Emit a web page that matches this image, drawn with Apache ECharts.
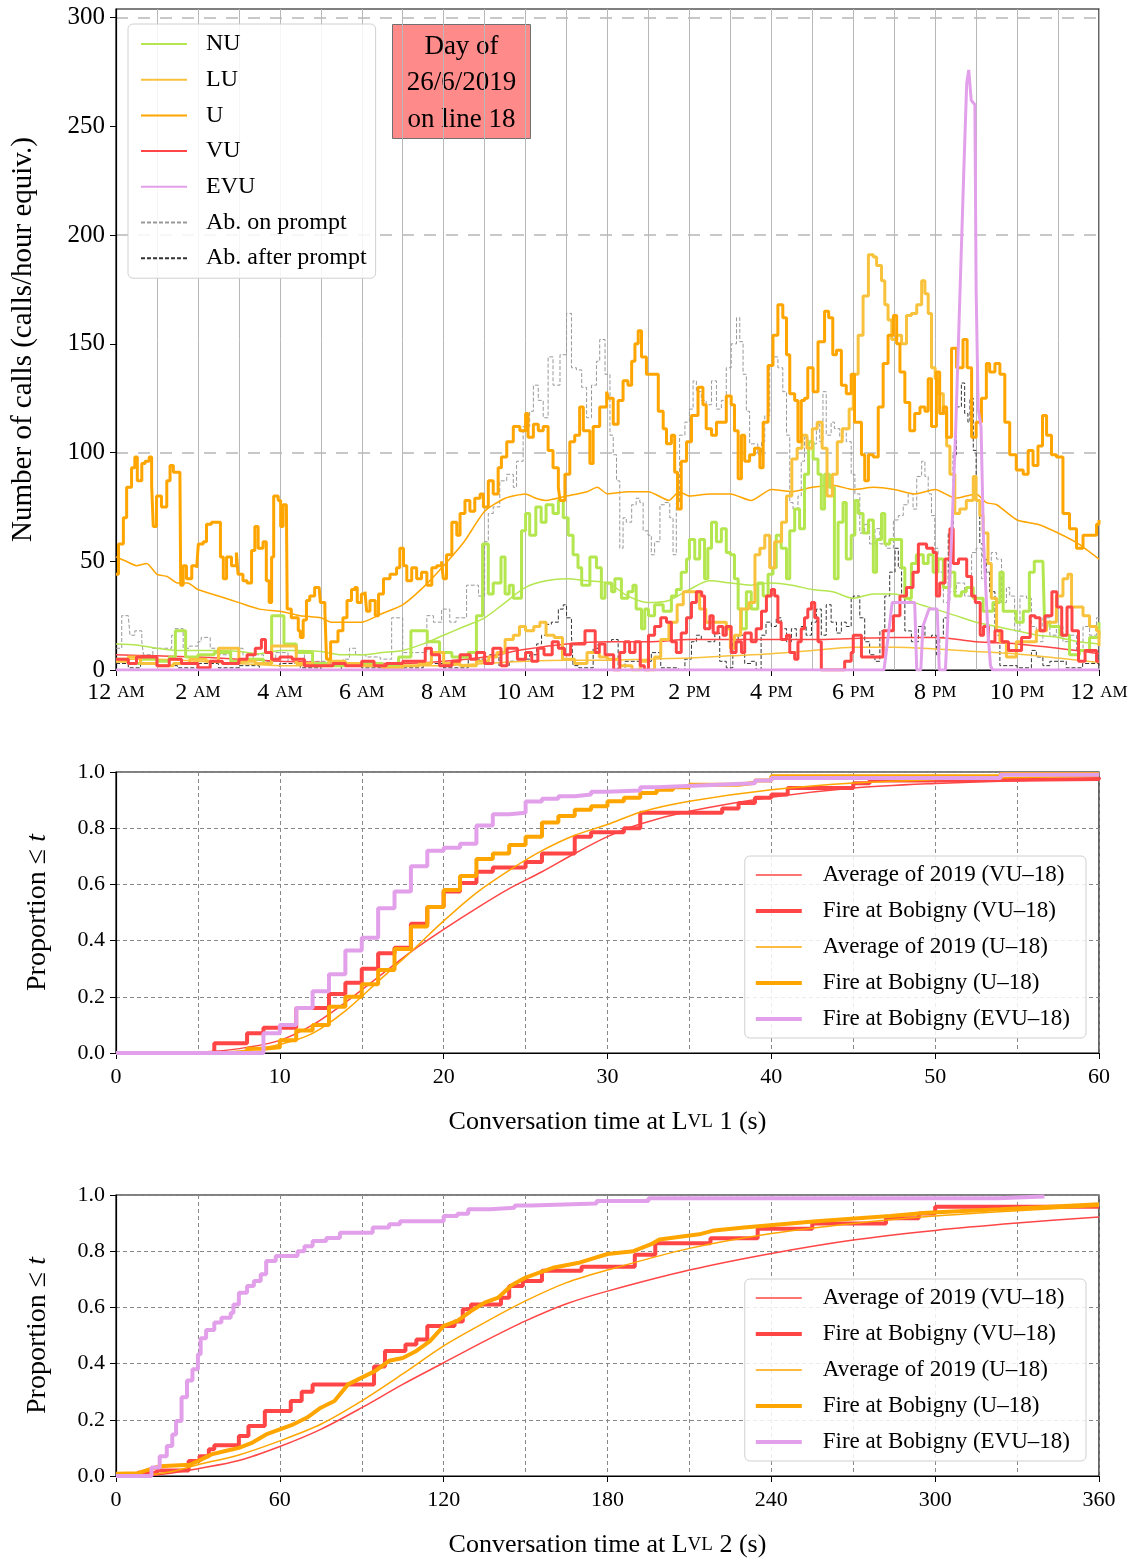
<!DOCTYPE html>
<html>
<head>
<meta charset="utf-8">
<script src="https://cdn.jsdelivr.net/npm/echarts@6/dist/echarts.min.js"></script>
<style>
html, body { margin: 0; padding: 0; background: #fff; }
#chart { width: 1137px; height: 1563px; }
</style>
</head>
<body>
<div id="chart"></div>
<script>
// ---- top panel: calls per hour, [hour, value]
var xTicksTop = ['12 AM', '2 AM', '4 AM', '6 AM', '8 AM', '10 AM', '12 PM', '2 PM', '4 PM', '6 PM', '8 PM', '10 PM', '12 AM'];
var yTicksTop = [0, 50, 100, 150, 200, 250, 300];
var yDashTop = [100, 200, 300];

var uDay = [[0,44],[0.06,58],[0.18,70],[0.26,84],[0.38,93],[0.46,98],[0.52,87],[0.63,95],[0.71,96],[0.81,98],[0.87,85],[0.91,66],[0.99,80],[1.11,75],[1.24,87],[1.32,94],[1.4,91],[1.56,91],[1.58,39],[1.64,48],[1.72,42],[1.85,48],[1.97,47],[2.01,58],[2.13,59],[2.21,67],[2.33,68],[2.5,68],[2.55,52],[2.62,42],[2.7,52],[2.82,48],[2.94,54],[2.98,44],[3.1,41],[3.2,40],[3.31,55],[3.39,66],[3.47,56],[3.59,59],[3.67,41],[3.74,31],[3.8,52],[3.85,80],[3.96,78],[4.02,66],[4.08,76],[4.16,76],[4.18,28],[4.28,24],[4.37,24],[4.45,18],[4.5,15],[4.57,23],[4.65,32],[4.73,34],[4.85,38],[4.96,38],[4.99,31],[5.1,27],[5.14,5],[5.24,13],[5.42,18],[5.54,24],[5.64,32],[5.75,37],[5.83,38],[5.89,31],[5.99,35],[6.08,36],[6.12,27],[6.2,32],[6.33,25],[6.41,35],[6.53,42],[6.69,44],[6.85,47],[6.93,56],[7.02,48],[7.1,41],[7.22,47],[7.34,42],[7.46,45],[7.59,39],[7.71,47],[7.83,48],[7.95,50],[7.99,42],[8.07,53],[8.2,68],[8.32,62],[8.4,72],[8.52,78],[8.64,73],[8.76,79],[8.89,81],[8.97,75],[9.09,87],[9.21,81],[9.33,93],[9.41,98],[9.54,105],[9.7,112],[9.86,110],[10,118],[10.06,107],[10.19,113],[10.31,110],[10.43,112],[10.55,101],[10.67,93],[10.8,84],[10.84,78],[10.96,90],[11.08,105],[11.2,108],[11.32,121],[11.41,110],[11.57,95],[11.65,112],[11.81,121],[11.98,128],[12.02,125],[12.14,113],[12.26,124],[12.38,133],[12.5,131],[12.59,142],[12.67,150],[12.75,156],[12.83,144],[12.95,136],[13.15,136],[13.24,119],[13.36,111],[13.44,104],[13.56,108],[13.64,91],[13.71,74],[13.8,96],[13.93,105],[14.05,117],[14.21,130],[14.33,122],[14.41,111],[14.54,108],[14.66,114],[14.78,114],[14.9,126],[15.02,122],[15.1,110],[15.19,88],[15.27,108],[15.35,96],[15.47,99],[15.59,102],[15.72,93],[15.8,114],[15.92,140],[16.04,154],[16.16,168],[16.28,162],[16.37,145],[16.45,127],[16.57,124],[16.65,105],[16.73,124],[16.81,125],[16.89,139],[17.02,128],[17.14,151],[17.3,165],[17.4,162],[17.5,145],[17.59,147],[17.71,131],[17.83,127],[17.95,136],[18.03,114],[18.08,114],[18.2,99],[18.28,87],[18.37,99],[18.49,98],[18.61,121],[18.73,141],[18.85,154],[18.98,163],[19.06,150],[19.14,137],[19.26,123],[19.38,110],[19.5,118],[19.63,121],[19.75,119],[19.83,134],[19.91,112],[20.03,137],[20.11,118],[20.2,121],[20.28,107],[20.4,148],[20.52,139],[20.68,152],[20.78,139],[20.89,107],[21,114],[21.13,125],[21.25,141],[21.33,137],[21.46,141],[21.58,136],[21.7,114],[21.82,99],[21.98,92],[22.15,90],[22.27,101],[22.39,94],[22.51,103],[22.62,117],[22.72,108],[22.84,99],[22.96,98],[23.12,72],[23.28,65],[23.45,56],[23.61,62],[23.77,62],[23.94,67],[24,69]];
var uAvg = [[0,52],[0.25,50],[0.5,48],[0.75,49],[1,44],[1.25,43],[1.5,40],[1.75,40],[2,37],[2.5,34],[3,31],[3.5,28],[4,27],[4.5,25],[5,24],[5.25,22],[5.5,22],[6,22],[6.5,26],[7,30],[7.5,38],[8,48],[8.5,59],[9,73],[9.5,79],[10,81],[10.25,79],[10.5,78],[11,80],[11.5,82],[11.75,84],[12,81],[12.5,82],[13,82],[13.5,78],[13.75,82],[14,80],[14.5,81],[15,81],[15.5,78],[16,83],[16.5,82],[17,84],[17.5,85],[18,83],[18.5,84],[19,83],[19.5,81],[20,83],[20.5,79],[21,81],[21.25,77],[21.5,76],[22,69],[22.5,67],[23,63],[23.5,58],[24,51]];
var nuDay = [[0,5],[0.3,3],[0.6,5],[1,4],[1.3,6],[1.45,18],[1.7,6],[2,7],[2.4,8],[2.8,4],[3.2,5],[3.6,3],[3.8,25],[4.1,12],[4.4,8],[4.8,3],[5.2,2],[5.6,3],[6,3],[6.5,2],[6.9,6],[7.2,18],[7.6,13],[7.9,8],[8.2,6],[8.6,8],[8.8,25],[8.95,58],[9.09,35],[9.21,40],[9.4,52],[9.5,35],[9.6,39],[9.7,33],[9.9,64],[10,72],[10.1,62],[10.25,75],[10.38,68],[10.5,76],[10.67,72],[10.8,78],[10.92,70],[11.04,62],[11.16,53],[11.28,47],[11.37,39],[11.57,52],[11.73,47],[11.85,33],[11.94,40],[12.1,36],[12.18,42],[12.34,33],[12.5,36],[12.62,39],[12.7,28],[12.83,19],[12.91,28],[13,25],[13.15,30],[13.36,27],[13.56,34],[13.68,37],[13.8,45],[13.93,51],[14,60],[14.13,51],[14.25,60],[14.37,42],[14.45,56],[14.54,68],[14.66,59],[14.78,65],[14.9,54],[15,53],[15.1,42],[15.19,28],[15.27,19],[15.39,36],[15.51,28],[15.67,40],[15.8,34],[15.92,44],[16.04,47],[16.12,62],[16.24,56],[16.37,42],[16.45,64],[16.57,74],[16.69,65],[16.81,90],[16.91,105],[17.02,97],[17.14,90],[17.22,74],[17.3,90],[17.42,84],[17.54,42],[17.63,68],[17.75,77],[17.83,51],[17.95,62],[18.04,78],[18.12,72],[18.24,63],[18.37,69],[18.49,45],[18.57,60],[18.69,72],[18.77,58],[18.89,60],[19.1,60],[19.18,47],[19.26,33],[19.42,49],[19.54,53],[19.71,49],[19.83,53],[19.95,45],[20.07,51],[20.2,38],[20.36,45],[20.48,34],[20.64,36],[20.76,38],[20.93,33],[21.17,27],[21.41,31],[21.58,45],[21.66,27],[21.82,27],[21.98,22],[22.15,27],[22.3,45],[22.42,50],[22.63,50],[22.67,22],[22.8,20],[23.04,16],[23.28,7],[23.52,9],[23.77,15],[24,22]];
var nuAvg = [[0,12],[0.5,11.5],[1,10],[1.5,9],[2,9],[2.5,9],[3,8.5],[3.5,7.5],[4,9],[4.5,9],[5,8.5],[5.5,7],[6,7],[6.5,8],[7,9],[7.5,12],[8,16],[8.5,20],[9,24],[9.5,31],[10,38],[10.5,41],[11,42],[11.5,41],[12,40],[12.5,34],[13,31],[13.5,32],[14,37],[14.5,41],[15,40],[15.5,39],[16,40],[16.5,39],[17,37],[17.5,36],[18,33],[18.5,35],[19,35],[19.5,31],[20,28],[20.5,25],[21,22],[21.5,20],[22,18],[22.5,16],[23,15],[23.5,13],[24,12]];
var luDay = [[0,4],[0.3,6],[0.6,3],[1,2],[1.4,3],[1.8,5],[2.2,4],[2.5,10],[2.8,10],[3,4],[3.4,3],[3.8,11],[4.2,11],[4.4,3],[4.8,2],[5.2,4],[5.6,3],[6,2],[6.5,1],[7,2],[7.4,3],[7.7,8],[8,3],[8.4,2],[8.8,4],[9.1,6],[9.3,8],[9.5,14],[9.7,16],[9.85,20],[10,18],[10.2,20],[10.35,22],[10.5,16],[10.7,15],[10.9,5],[11.2,3],[11.5,8],[11.8,6],[12,5],[12.3,2],[12.6,0],[12.8,4],[13,0],[13.15,6],[13.3,14],[13.5,22],[13.7,30],[13.85,36],[14.1,36],[14.25,28],[14.4,22],[14.7,22],[14.9,19],[15,10],[15.1,16],[15.25,28],[15.45,31],[15.6,53],[15.72,56],[15.84,62],[15.96,47],[16.08,59],[16.25,68],[16.37,80],[16.5,97],[16.63,102],[16.75,108],[16.87,102],[17,111],[17.12,114],[17.24,102],[17.36,80],[17.49,90],[17.61,105],[17.73,111],[17.9,120],[18,136],[18.12,154],[18.24,172],[18.37,191],[18.49,190],[18.57,186],[18.69,179],[18.77,168],[18.85,161],[18.94,152],[19.06,154],[19.18,150],[19.3,163],[19.42,164],[19.55,168],[19.67,179],[19.75,173],[19.83,164],[19.91,139],[20,134],[20.07,127],[20.2,118],[20.28,103],[20.36,90],[20.48,72],[20.6,74],[20.76,78],[20.93,89],[21,78],[21.09,71],[21.17,63],[21.29,49],[21.37,33],[21.5,18],[21.58,13],[21.74,6],[21.98,13],[22.23,13],[22.47,18],[22.72,22],[22.96,34],[23.12,42],[23.24,44],[23.33,29],[23.45,29],[23.61,25],[23.77,20],[23.94,18],[24,11]];
var luAvg = [[0,5],[1,5],[2,4],[3,3],[4,2],[5,2],[6,2],[7,2],[8,2],[9,3],[10,4],[11,4.5],[12,4.5],[13,5],[14,5.5],[15,6.5],[16,7.5],[17,9],[18,10.5],[19,10.5],[20,9.7],[21,8.5],[22,7.4],[23,5.5],[24,3.5]];
var vuDay = [[0,5],[0.3,3],[0.5,6],[1,2],[1.3,5],[1.6,3],[2,1],[2.3,4],[2.6,3],[3,5],[3.2,7],[3.4,10],[3.55,14],[3.65,8],[3.8,5],[4,6],[4.3,5],[4.6,2],[5,2],[5.3,3],[5.6,2],[6,4],[6.3,2],[6.6,3],[7,4],[7.3,4],[7.55,10],[7.7,7],[7.9,2],[8.2,4],[8.4,7],[8.65,5],[8.8,8],[9,3],[9.2,10],[9.4,2],[9.55,10],[9.8,5],[10,8],[10.15,4],[10.3,10],[10.45,7],[10.65,13],[10.8,10],[10.95,7],[11.1,12],[11.3,12],[11.45,18],[11.6,18],[11.7,8],[11.8,12],[11.94,7],[12.15,0],[12.3,8],[12.42,13],[12.54,8],[12.67,13],[12.8,2],[12.9,0],[13,16],[13.15,20],[13.3,24],[13.44,22],[13.56,13],[13.68,8],[13.8,17],[13.93,24],[14.05,31],[14.17,36],[14.3,34],[14.37,19],[14.5,25],[14.58,17],[14.7,20],[14.82,16],[14.9,20],[15.02,8],[15.14,13],[15.27,8],[15.35,17],[15.51,13],[15.63,19],[15.76,27],[15.88,34],[16,37],[16.08,34],[16.16,22],[16.24,14],[16.37,16],[16.45,8],[16.57,5],[16.65,13],[16.73,19],[16.81,24],[16.89,28],[16.98,31],[17.06,24],[17.14,13],[17.22,0],[17.63,0],[17.79,4],[17.95,8],[18,16],[18.2,6],[18.6,6],[18.73,18],[18.98,25],[19.14,34],[19.3,38],[19.46,45],[19.59,58],[19.79,56],[19.95,54],[20.03,34],[20.11,40],[20.24,51],[20.36,65],[20.44,49],[20.57,51],[20.69,51],[20.77,43],[20.89,34],[20.98,31],[21.1,16],[21.18,20],[21.3,13],[21.46,18],[21.63,13],[21.79,9],[21.95,9],[22.11,15],[22.32,25],[22.44,24],[22.56,18],[22.68,25],[22.85,36],[22.97,29],[23.09,16],[23.22,29],[23.34,18],[23.5,4],[23.66,9],[23.82,9],[23.94,4],[24,4]];
var vuAvg = [[0,7],[1,6.5],[2,6],[3,5],[4,4],[5,3.5],[6,3],[7,3],[8,4],[9,6],[10,9.5],[11,12],[12,13],[13,13],[14,14],[15,14],[16,14],[17,14],[18,14.5],[19,15],[20,15],[21,13],[22,12],[23,10],[24,7.5]];
var evuDay = [[0,0],[18.75,0],[18.85,15],[18.95,31],[19.5,31],[19.55,0],[19.65,0],[19.7,20],[19.85,28],[20.05,28],[20.1,0],[20.25,0],[20.3,20],[20.4,60],[20.5,110],[20.6,170],[20.7,230],[20.77,270],[20.82,276],[20.88,262],[20.97,260],[21,175],[21.05,120],[21.12,112],[21.18,60],[21.28,20],[21.35,2],[21.4,0],[24,0]];
var abOnPrompt = [[0,10],[0.14,25],[0.3,25],[0.34,16],[0.46,18],[0.63,13],[0.67,7],[0.9,10],[1.24,10],[1.36,16],[1.44,19],[1.56,19],[1.64,10],[1.8,11],[2,13],[2.08,15],[2.3,10],[2.54,7],[2.8,10],[2.94,10],[3.1,5],[3.35,7],[3.6,4],[3.9,8],[4.2,4],[4.4,8],[4.6,4],[5,4],[5.3,3],[5.55,5],[5.7,10],[5.85,7],[6.1,6],[6.45,5],[6.73,24],[6.93,24],[7,8],[7.3,8],[7.59,25],[7.75,22],[7.95,28],[8.15,22],[8.3,24],[8.56,39],[8.76,39],[8.85,34],[9,59],[9.09,72],[9.21,75],[9.37,87],[9.54,90],[9.7,84],[9.78,96],[9.94,112],[10.1,119],[10.19,131],[10.31,124],[10.43,116],[10.55,144],[10.67,131],[10.84,145],[11,164],[11.12,139],[11.24,138],[11.37,130],[11.49,116],[11.61,131],[11.73,142],[11.81,152],[11.94,136],[12.06,108],[12.14,99],[12.22,87],[12.3,56],[12.38,70],[12.46,68],[12.59,76],[12.7,79],[12.79,77],[12.87,64],[12.99,62],[13.07,53],[13.15,59],[13.28,76],[13.4,77],[13.52,70],[13.6,53],[13.68,77],[13.76,108],[13.89,114],[14,120],[14.09,133],[14.17,128],[14.29,124],[14.41,122],[14.54,133],[14.66,120],[14.78,124],[14.9,139],[15.02,150],[15.15,162],[15.23,151],[15.31,136],[15.39,119],[15.47,104],[15.55,104],[15.67,99],[15.76,105],[15.84,117],[15.96,140],[16.04,144],[16.16,139],[16.28,128],[16.37,108],[16.45,77],[16.53,74],[16.65,80],[16.73,96],[16.81,107],[16.89,105],[17.02,104],[17.1,113],[17.18,105],[17.26,128],[17.34,108],[17.46,114],[17.54,111],[17.67,107],[17.75,111],[17.83,105],[17.95,90],[18.04,81],[18.16,63],[18.28,67],[18.4,58],[18.53,65],[18.65,58],[18.8,56],[18.98,69],[19.1,71],[19.22,76],[19.34,81],[19.46,74],[19.55,89],[19.67,96],[19.75,89],[19.83,81],[19.91,71],[19.99,56],[20.07,45],[20.2,31],[20.36,36],[20.52,40],[20.72,34],[20.89,54],[21,56],[21.13,42],[21.25,45],[21.37,54],[21.5,51],[21.62,31],[21.74,38],[21.82,34],[21.94,18],[22.07,34],[22.23,33],[22.35,20],[22.47,13],[22.63,24],[22.8,16],[22.96,20],[23.12,13],[23.28,16],[23.45,9],[23.61,20],[23.77,16],[23.94,24],[24,24]];
var abAfterPrompt = [[0,3],[0.3,1],[0.6,5],[1,2],[1.5,1],[2,3],[2.5,1],[3,2],[3.5,0],[4,3],[4.5,1],[5,0],[5.5,2],[6,1],[6.5,2],[7,1],[7.5,3],[8,1],[8.4,1],[8.6,5],[8.9,5],[9.1,7],[9.35,2],[9.6,4],[9.86,5],[10.1,7],[10.27,12],[10.39,16],[10.51,21],[10.63,22],[10.8,28],[10.92,30],[11,24],[11.12,16],[11.16,2],[11.3,1],[11.57,1],[11.65,10],[11.77,12],[11.96,13],[12.1,14],[12.26,0],[12.43,4],[12.9,4],[13.07,8],[13.3,1],[13.73,0],[13.89,5],[14.05,13],[14.17,16],[14.29,14],[14.45,13],[14.62,17],[14.74,4],[14.9,1],[15.06,13],[15.19,16],[15.35,3],[15.51,4],[15.63,0],[15.75,16],[15.87,22],[16,20],[16.12,24],[16.24,19],[16.37,13],[16.49,19],[16.61,14],[16.73,20],[16.85,16],[16.98,22],[17.1,28],[17.22,16],[17.34,30],[17.46,22],[17.59,17],[17.71,22],[17.83,20],[17.95,33],[18,34],[18.16,24],[18.28,13],[18.4,7],[18.53,4],[18.65,18],[18.77,34],[18.89,45],[19.02,56],[19.1,47],[19.18,34],[19.26,18],[19.42,13],[19.59,20],[19.75,15],[19.91,16],[20.03,7],[20.11,15],[20.2,24],[20.32,63],[20.44,99],[20.52,121],[20.64,132],[20.72,118],[20.8,114],[20.85,125],[20.93,101],[21,78],[21.09,58],[21.17,51],[21.25,45],[21.33,36],[21.46,16],[21.58,2],[22,1],[22.35,9],[22.47,6],[22.63,2],[22.8,4],[23.2,1],[23.6,3],[24,1]];

// ---- middle panel: conversation time at level 1, [seconds, proportion]
var lvl1VuAvg = [[0,0],[4,0.001],[6,0.006],[8,0.02],[10,0.045],[12,0.1],[14,0.18],[16,0.27],[18,0.36],[20,0.44],[22,0.515],[24,0.585],[26,0.645],[28,0.71],[30,0.77],[32,0.815],[35,0.86],[40,0.91],[45,0.943],[50,0.959],[55,0.969],[60,0.976]];
var lvl1VuDay = [[0,0],[6,0.035],[8,0.07],[9,0.09],[11,0.16],[13,0.21],[14,0.25],[15,0.3],[16,0.355],[17,0.375],[18,0.46],[19,0.52],[20,0.575],[21,0.605],[22,0.645],[23,0.66],[25,0.68],[26,0.71],[28,0.77],[29,0.786],[31,0.8],[32,0.855],[37,0.87],[38,0.89],[39,0.908],[40,0.92],[41,0.943],[45,0.96],[46,0.97],[50,0.975],[60,0.98]];
var lvl1UAvg = [[0,0],[6,0.003],[8,0.01],[10,0.03],[12,0.07],[14,0.15],[16,0.255],[18,0.36],[20,0.47],[22,0.57],[24,0.65],[26,0.72],[28,0.775],[30,0.813],[32,0.857],[35,0.896],[40,0.937],[45,0.961],[50,0.973],[55,0.98],[60,0.985]];
var lvl1UDay = [[0,0],[8,0.015],[9,0.02],[10,0.045],[11,0.08],[12,0.1],[13,0.165],[14,0.2],[15,0.245],[16,0.295],[17,0.37],[18,0.45],[19,0.52],[20,0.58],[21,0.63],[22,0.69],[23,0.71],[24,0.74],[25,0.77],[26,0.82],[27,0.843],[28,0.866],[29,0.878],[30,0.896],[31,0.908],[32,0.925],[33,0.937],[34,0.946],[35,0.955],[38,0.962],[39,0.97],[40,0.985],[54,0.993],[60,0.993]];
var lvl1EvuDay = [[0,0],[9,0.07],[10,0.1],[11,0.16],[12,0.22],[13,0.28],[14,0.365],[15,0.41],[16,0.515],[17,0.575],[18,0.665],[19,0.72],[20,0.73],[21,0.745],[22,0.81],[23,0.85],[24,0.855],[25,0.895],[26,0.905],[27,0.914],[28,0.92],[29,0.93],[30,0.934],[32,0.946],[33,0.953],[36,0.96],[39,0.97],[40,0.979],[54,0.99],[60,0.99]];

// ---- bottom panel: conversation time at level 2
var lvl2VuAvg = [[0,0],[12,0.002],[20,0.01],[30,0.026],[45,0.055],[60,0.105],[75,0.166],[90,0.243],[105,0.326],[120,0.403],[135,0.48],[150,0.552],[165,0.613],[180,0.658],[210,0.733],[240,0.792],[270,0.84],[300,0.874],[330,0.9],[360,0.922]];
var lvl2VuDay = [[0,0],[8,0.012],[15,0.02],[26.6,0.053],[30.6,0.07],[34,0.095],[36,0.109],[45,0.142],[48.5,0.178],[54.5,0.231],[64,0.267],[68,0.3],[72,0.326],[94.5,0.39],[98.5,0.445],[106,0.468],[110,0.486],[114,0.534],[124,0.55],[127,0.593],[130,0.61],[141,0.634],[144,0.676],[149,0.694],[156,0.73],[170.5,0.745],[190,0.787],[197.5,0.828],[217.7,0.846],[235,0.88],[255,0.899],[282,0.917],[294,0.934],[300,0.958],[360,0.958]];
var lvl2UAvg = [[0,0],[10,0.003],[20,0.015],[30,0.04],[45,0.075],[60,0.125],[75,0.184],[90,0.267],[105,0.363],[120,0.463],[135,0.546],[150,0.623],[165,0.688],[180,0.733],[210,0.81],[240,0.863],[270,0.899],[300,0.925],[330,0.944],[360,0.96]];
var lvl2UDay = [[0,0.008],[8,0.01],[16,0.035],[27,0.04],[30,0.053],[35,0.077],[40,0.089],[45,0.1],[50,0.119],[55,0.148],[60,0.166],[65,0.184],[70,0.208],[75,0.243],[80,0.267],[85,0.326],[90,0.35],[95,0.374],[100,0.41],[105,0.42],[110,0.445],[115,0.48],[120,0.534],[125,0.552],[130,0.587],[135,0.617],[140,0.635],[145,0.68],[150,0.706],[155,0.724],[160,0.741],[170,0.76],[180,0.79],[189.5,0.8],[196,0.825],[199,0.842],[213.6,0.86],[219,0.874],[230,0.884],[256.5,0.907],[283.5,0.925],[297,0.937],[324,0.949],[360,0.967]];
var lvl2EvuDay = [[0,0],[10,0],[13,0.03],[16,0.07],[18.6,0.107],[20.6,0.148],[22,0.196],[24,0.28],[26,0.34],[28,0.38],[30,0.433],[31,0.49],[33,0.52],[36,0.546],[38.6,0.563],[42,0.58],[43,0.61],[45,0.652],[48,0.676],[50.5,0.694],[53,0.718],[55,0.765],[58.5,0.783],[64,0.783],[66.5,0.8],[69,0.818],[72,0.836],[77,0.847],[82,0.866],[94,0.884],[100,0.896],[104,0.907],[120,0.925],[125,0.933],[129,0.949],[137,0.955],[146,0.963],[152,0.97],[176,0.979],[195,0.988],[323,0.995],[340,0.995]];

var cdfNames = ['Average of 2019 (VU–18)', 'Fire at Bobigny (VU–18)', 'Average of 2019 (U–18)', 'Fire at Bobigny (U–18)', 'Fire at Bobigny (EVU–18)'];
var cdfWidths = [1.5, 4, 1.5, 4, 4];

var FONT = '"Liberation Serif", "DejaVu Serif", serif';
var C = { nu: '#b4e64f', lu: '#f8c23c', u: '#ffa500', vu: '#ff4545', evu: '#e2a0ea', on: '#999999', after: '#333333' };
var cdfColors = [C.vu, C.vu, C.u, C.u, C.evu];

var chart = echarts.init(document.getElementById('chart'));

function line(name, data, color, width, gi, extra) {
    var s = {
        type: 'line', name: name, data: data,
        xAxisIndex: gi, yAxisIndex: gi === 0 ? 0 : gi + 1,
        symbol: 'none', showSymbol: false,
        lineStyle: { color: color, width: width },
        itemStyle: { color: color },
        emphasis: { disabled: true }
    };
    for (var k in extra) s[k] = extra[k];
    return s;
}

function cdfXAxis(gi, max, interval, labelName) {
    return {
        type: 'value', gridIndex: gi, min: 0, max: max, interval: interval,
        name: labelName, nameLocation: 'middle', nameGap: 56,
        nameTextStyle: { fontFamily: FONT, fontSize: 26, color: '#000', rich: { s: { fontFamily: FONT, fontSize: 19, color: '#000' } } },
        axisLine: { lineStyle: { color: '#000', width: 1.2 } },
        axisTick: { length: 6, lineStyle: { color: '#000' } },
        axisLabel: { fontFamily: FONT, fontSize: 22, color: '#000', margin: 13 },
        splitLine: { show: true, lineStyle: { color: '#888', type: [4, 3], width: 1 } },
        minorTick: { show: false, splitNumber: 2 },
        minorSplitLine: { show: true, lineStyle: { color: '#888', type: [4, 3], width: 1 } }
    };
}

function cdfYAxis(gi) {
    return {
        type: 'value', gridIndex: gi, min: 0, max: 1, interval: 0.2,
        name: 'Proportion ≤ {i|t}', nameLocation: 'middle', nameGap: 64,
        nameTextStyle: { fontFamily: FONT, fontSize: 28, color: '#000', rich: { i: { fontFamily: FONT, fontSize: 28, fontStyle: 'italic', color: '#000' } } },
        axisLine: { lineStyle: { color: '#000', width: 1.2 } },
        axisTick: { show: true, length: 6, lineStyle: { color: '#000' } },
        axisLabel: { fontFamily: FONT, fontSize: 22, color: '#000', margin: 11, formatter: function (v) { return v.toFixed(1); } },
        splitLine: { show: true, lineStyle: { color: '#888', type: [4, 3], width: 1 } }
    };
}

function cdfLegend(top) {
    return {
        orient: 'vertical', right: 51, top: top,
        data: cdfNames.map(function (n, i) {
            return { name: n, lineStyle: { width: cdfWidths[i], color: cdfColors[i] } };
        }),
        itemWidth: 46, itemHeight: 14, itemGap: 12,
        itemStyle: { opacity: 0 },
        backgroundColor: 'rgba(255,255,255,0.85)', borderColor: '#d0d0d0', borderWidth: 1, borderRadius: 5,
        padding: [7, 16, 7, 9],
        textStyle: { fontFamily: FONT, fontSize: 23, color: '#000', lineHeight: 24, padding: [0, 0, 0, 16] }
    };
}

var option = {
    animation: false,
    backgroundColor: '#fff',
    grid: [
        { left: 116, right: 38, top: 9, height: 661, show: true, borderColor: '#000', borderWidth: 1.2, backgroundColor: 'transparent' },
        { left: 116, right: 38, top: 772, height: 281, show: true, borderColor: '#000', borderWidth: 1.2, backgroundColor: 'transparent' },
        { left: 116, right: 38, top: 1195, height: 281, show: true, borderColor: '#000', borderWidth: 1.2, backgroundColor: 'transparent' }
    ],
    xAxis: [
        {
            type: 'value', gridIndex: 0, min: 0, max: 24, interval: 2,
            axisLine: { lineStyle: { color: '#000', width: 1.2 } },
            axisTick: { length: 6, lineStyle: { color: '#000' } },
            axisLabel: {
                fontFamily: FONT, fontSize: 24, color: '#000', margin: 11,
                formatter: function (v) {
                    var p = xTicksTop[Math.round(v / 2)].split(' ');
                    return p[0] + ' {s|' + p[1] + '}';
                },
                rich: { s: { fontFamily: FONT, fontSize: 17, color: '#000' } }
            },
            splitLine: { show: true, lineStyle: { color: '#b8b8b8', width: 1 } },
            minorTick: { show: false, splitNumber: 2 },
            minorSplitLine: { show: true, lineStyle: { color: '#b8b8b8', width: 1 } }
        },
        cdfXAxis(1, 60, 10, 'Conversation time at L{s|VL} 1 (s)'),
        cdfXAxis(2, 360, 60, 'Conversation time at L{s|VL} 2 (s)')
    ],
    yAxis: [
        {
            type: 'value', gridIndex: 0, min: 0, max: 304,
            name: 'Number of calls (calls/hour equiv.)', nameLocation: 'middle', nameGap: 78,
            nameTextStyle: { fontFamily: FONT, fontSize: 29, color: '#000' },
            axisLine: { lineStyle: { color: '#000', width: 1.2 } },
            axisTick: { show: true, length: 6, lineStyle: { color: '#000' }, customValues: yTicksTop },
            axisLabel: { fontFamily: FONT, fontSize: 25, color: '#000', margin: 11, customValues: yTicksTop },
            splitLine: { show: false }
        },
        {
            type: 'value', gridIndex: 0, min: 0, max: 304,
            axisLine: { show: false },
            axisTick: { show: false, customValues: yDashTop },
            axisLabel: { show: false, customValues: yDashTop },
            splitLine: { show: true, lineStyle: { color: '#c8c8c8', type: [12, 10], width: 2 } }
        },
        cdfYAxis(1),
        cdfYAxis(2)
    ],
    legend: [
        {
            orient: 'vertical', left: 128, top: 24,
            data: ['NU', 'LU', 'U', 'VU', 'EVU', 'Ab. on prompt', 'Ab. after prompt'],
            itemWidth: 46, itemHeight: 14, itemGap: 11.7,
            itemStyle: { opacity: 0 },
            backgroundColor: 'rgba(255,255,255,0.85)', borderColor: '#d0d0d0', borderWidth: 1, borderRadius: 5,
            padding: [8, 9, 8, 12],
            textStyle: { fontFamily: FONT, fontSize: 24, color: '#000', lineHeight: 24, padding: [0, 0, 0, 14] }
        },
        cdfLegend(856),
        cdfLegend(1279)
    ],
    graphic: [{
        type: 'group', left: 392, top: 24,
        children: [
            { type: 'rect', shape: { x: 0, y: 0, width: 138, height: 114 }, style: { fill: '#ff8a8a', stroke: '#707070', lineWidth: 1 } },
            { type: 'text', x: 69, y: 4, style: { text: 'Day of\n26/6/2019\non line 18', font: '27px ' + FONT, fill: '#000', align: 'center', verticalAlign: 'top', lineHeight: 36.5 } }
        ]
    }],
    series: [
        line('Ab. on prompt', abOnPrompt, C.on, 1, 0, { step: 'end', lineStyle: { color: C.on, width: 1, type: [4, 2] } }),
        line('Ab. after prompt', abAfterPrompt, C.after, 1, 0, { step: 'end', lineStyle: { color: C.after, width: 1, type: [4, 2] } }),
        line('NU avg', nuAvg, C.nu, 1.5, 0, { smooth: 0.3 }),
        line('LU avg', luAvg, C.lu, 1.5, 0, { smooth: 0.3 }),
        line('U avg', uAvg, C.u, 1.5, 0, { smooth: 0.2 }),
        line('VU avg', vuAvg, C.vu, 1.5, 0, { smooth: 0.3 }),
        line('NU', nuDay, C.nu, 3, 0, { step: 'end' }),
        line('LU', luDay, C.lu, 3, 0, { step: 'end' }),
        line('U', uDay, C.u, 3, 0, { step: 'end' }),
        line('VU', vuDay, C.vu, 3, 0, { step: 'end' }),
        line('EVU', evuDay, C.evu, 3, 0, {}),

        line(cdfNames[0], lvl1VuAvg, C.vu, 1.5, 1, { smooth: 0.3 }),
        line(cdfNames[1], lvl1VuDay, C.vu, 4, 1, { step: 'end' }),
        line(cdfNames[2], lvl1UAvg, C.u, 1.5, 1, { smooth: 0.3 }),
        line(cdfNames[3], lvl1UDay, C.u, 4, 1, { step: 'end' }),
        line(cdfNames[4], lvl1EvuDay, C.evu, 4, 1, { step: 'end' }),

        line(cdfNames[0], lvl2VuAvg, C.vu, 1.5, 2, { smooth: 0.3 }),
        line(cdfNames[1], lvl2VuDay, C.vu, 4, 2, { step: 'end' }),
        line(cdfNames[2], lvl2UAvg, C.u, 1.5, 2, { smooth: 0.3 }),
        line(cdfNames[3], lvl2UDay, C.u, 4, 2, {}),
        line(cdfNames[4], lvl2EvuDay, C.evu, 4, 2, { step: 'end' })
    ]
};

chart.setOption(option);
</script>
</body>
</html>
